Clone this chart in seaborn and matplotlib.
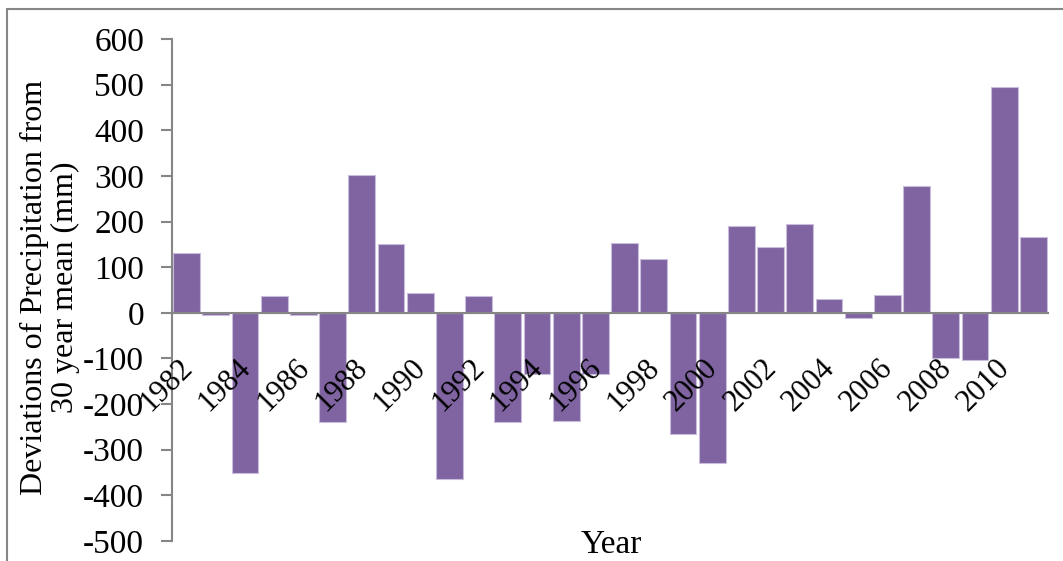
import pandas as pd
import seaborn as sns
import matplotlib.pyplot as plt
import matplotlib.transforms as mtransforms
from matplotlib.patches import Rectangle

# Données
years = list(range(1982, 2012))
deviations = [130, -5, -350, 37, -5, -240, 303, 150, 44, -365,
              37, -240, -133, -237, -135, 154, 118, -265, -328, 191,
              145, 195, 31, -12, 39, 277, -100, -103, 494, 167]
yticks = [600, 500, 400, 300, 200, 100, 0, -100, -200, -300, -400, -500]

df = pd.DataFrame({'Year': years, 'Deviation': deviations})

sns.set_theme(style='white')
plt.rcParams['font.family'] = ['Liberation Serif', 'DejaVu Serif']
plt.rcParams['text.color'] = 'black'
plt.rcParams['xtick.labelcolor'] = 'black'
plt.rcParams['ytick.labelcolor'] = 'black'

fig = plt.figure(figsize=(10.63, 5.61), dpi=100)
ax = fig.add_axes([172 / 1063, 1 - 541 / 561, (1048 - 172) / 1063, (541 - 39) / 561])

sns.barplot(data=df, x='Year', y='Deviation', color='#8064A2', saturation=1,
            width=0.92, edgecolor='#c9bddb', linewidth=0.8, ax=ax)

ax.set_ylim(-500, 600)
ax.set_xlim(-0.5, len(years) - 0.5)
ax.set_yticks(yticks)
ax.set_yticklabels([str(v) for v in yticks], fontsize=24)

# Axe des x sur zéro
ax.spines['bottom'].set_position(('data', 0))
ax.spines['bottom'].set_color('#868686')
ax.spines['bottom'].set_linewidth(1.5)
ax.spines['left'].set_color('#868686')
ax.spines['left'].set_linewidth(1.5)
ax.spines['top'].set_visible(False)
ax.spines['right'].set_visible(False)
ax.set_axisbelow(False)

ax.tick_params(axis='y', direction='out', length=8, width=1.5, color='#868686',
               labelcolor='black', pad=12, left=True)
ax.tick_params(axis='x', length=0, pad=29, labelcolor='black')

pos = list(range(0, len(years), 2))
ax.set_xticks(pos)
ax.set_xticklabels([str(years[i]) for i in pos], rotation=45, ha='right',
                   va='top', rotation_mode='anchor', fontsize=22)
shift = mtransforms.ScaledTranslation(-9 / 100, 0, fig.dpi_scale_trans)
for lab in ax.get_xticklabels():
    lab.set_transform(lab.get_transform() + shift)

ax.set_xlabel('')
ax.set_ylabel('')
fig.text(50 / 1063, 1 - 287 / 561, 'Deviations of Precipitation from\n30 year mean (mm)',
         rotation=90, ha='center', va='center', fontsize=23, linespacing=1.1, color='black')
fig.text(611 / 1063, 1 - 545 / 561, 'Year', ha='center', va='center', fontsize=24, color='black')

# Cadre extérieur
fig.patches.append(Rectangle((7 / 1063, -0.1), 1.2, 1 - 9 / 561 + 0.1, transform=fig.transFigure,
                             fill=False, edgecolor='#868686', linewidth=1.5))

fig.savefig('out.png', dpi=100)
